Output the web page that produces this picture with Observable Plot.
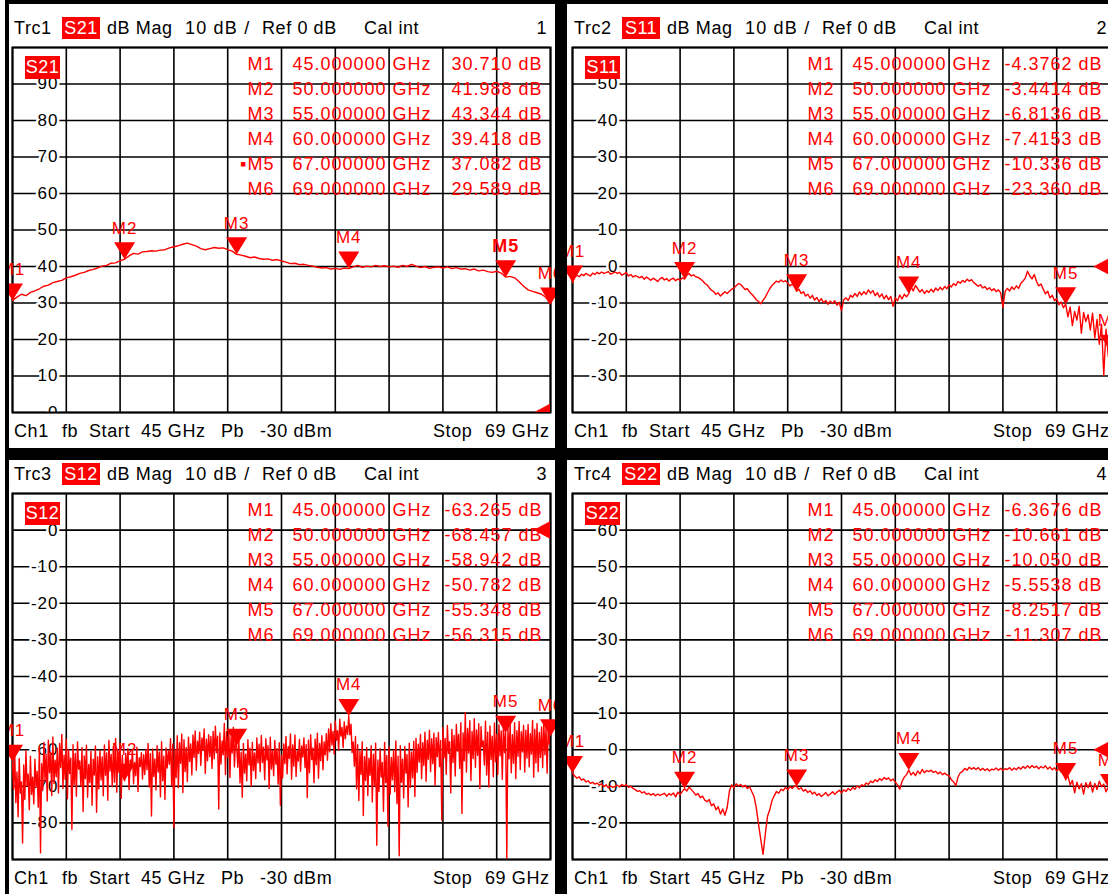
<!DOCTYPE html>
<html><head><meta charset="utf-8">
<script src="https://cdn.jsdelivr.net/npm/d3@7"></script>
<script src="https://cdn.jsdelivr.net/npm/@observablehq/plot@0.6"></script>
<style>
body{margin:0;background:#fff;}
#root{position:relative;width:1108px;height:894px;overflow:hidden;background:#fff;font-family:"Liberation Sans",Arial,sans-serif;}
.panel{position:absolute;background:#fff;overflow:hidden;}
.panel svg{position:absolute;left:0;top:0;overflow:hidden;}
.panel svg text{letter-spacing:1px;}
.t{position:absolute;font-size:18px;line-height:22px;white-space:pre;color:#000;letter-spacing:0.6px;}
.badge{position:absolute;background:#ff0000;color:#fff;font-size:18px;text-align:center;white-space:pre;letter-spacing:0.5px;}
.bar{position:absolute;background:#000;}
</style></head>
<body><div id="root"></div>
<script>
// ---------------- data ----------------
const startGHz = 45, stopGHz = 69, powerLabel = "-30 dBm", refLevel = 0;
const gridFreqs = [45, 47.4, 49.8, 52.2, 54.6, 57, 59.4, 61.8, 64.2, 66.6, 69];
const traceNames = ["Trc1", "Trc2", "Trc3", "Trc4"];
const sParams = ["S21", "S11", "S12", "S22"];
const channelNums = ["1", "2", "3", "4"];
const markerNames = ["M1", "M2", "M3", "M4", "M5", "M6"];
const markerFreqs = [45, 50, 55, 60, 67, 69];
const s21Markers = [30.710, 41.988, 43.344, 39.418, 37.082, 29.589];
const s11Markers = [-4.3762, -3.4414, -6.8136, -7.4153, -10.336, -23.360];
const s12Markers = [-63.265, -68.457, -58.942, -50.782, -55.348, -56.315];
const s22Markers = [-6.3676, -10.661, -10.050, -5.5538, -8.2517, -11.307];

const s21Grid = [0, 10, 20, 30, 40, 50, 60, 70, 80, 90, 100];
const s11Grid = [-40, -30, -20, -10, 0, 10, 20, 30, 40, 50, 60];
const s12Grid = [-90, -80, -70, -60, -50, -40, -30, -20, -10, 0, 10];
const s22Grid = [-30, -20, -10, 0, 10, 20, 30, 40, 50, 60, 70];
const s21Ticks = [90, 80, 70, 60, 50, 40, 30, 20, 10, 0];
const s11Ticks = [50, 40, 30, 20, 10, 0, -10, -20, -30];
const s12Ticks = [0, -10, -20, -30, -40, -50, -60, -70, -80];
const s22Ticks = [60, 50, 40, 30, 20, 10, 0, -10, -20];

// S21, 121 sweep points (0.2 GHz)
const s21Trace = [
30.71, 31.6, 32.4, 32.0, 32.9, 33.3, 33.9, 34.6, 34.9, 35.6,
35.9, 36.2, 36.9, 37.2, 37.6, 38.1, 38.4, 38.9, 39.2, 39.6,
40.1, 40.3, 40.9, 41.0, 41.6, 41.99, 42.9, 43.6, 43.4, 44.0,
44.1, 44.3, 44.2, 44.5, 44.6, 45.1, 45.4, 45.7, 46.1, 46.4,
46.0, 45.6, 44.9, 44.6, 44.9, 45.2, 45.0, 45.1, 44.6, 44.2,
43.34, 43.1, 42.8, 42.4, 42.6, 42.2, 42.0, 42.1, 41.7, 41.9,
41.5, 41.2, 40.8, 40.9, 40.5, 40.6, 40.3, 40.1, 39.8, 39.6,
39.7, 39.3, 39.5, 39.2, 39.6, 39.42, 39.9, 40.3, 39.8, 40.1,
39.9, 40.3, 40.0, 40.2, 39.9, 40.1, 39.8, 40.3, 40.0, 40.6,
40.1, 39.7, 40.0, 39.5, 39.8, 39.9, 39.6, 39.9, 39.4, 39.7,
39.3, 39.4, 39.0, 39.3, 38.8, 39.0, 38.6, 38.4, 38.7, 38.2,
37.08, 37.3, 36.9, 35.8, 34.6, 33.6, 33.2, 32.8, 32.4, 31.5,
29.59];

// S11, 241 sweep points (0.1 GHz)
const s11Trace = [
-4.38, -2.9, -2.4, -2.8, -2.1, -2.5, -1.9, -2.3, -2.6, -1.8,
-2.2, -1.6, -2.0, -1.5, -1.9, -1.7, -1.4, -2.1, -1.8, -1.5,
-1.9, -1.6, -2.4, -2.0, -1.7, -2.6, -2.2, -2.9, -2.5, -2.8,
-3.1, -2.7, -3.5, -2.9, -3.3, -3.8, -3.2, -3.6, -4.1, -3.4,
-3.0, -3.7, -3.3, -4.0, -3.5, -3.2, -3.9, -3.4, -3.8, -3.1,
-3.44, -2.4, -1.9, -2.6, -2.3, -2.8, -3.0, -3.4, -3.9, -4.6,
-5.0, -5.8, -6.5, -6.9, -7.6, -7.2, -8.1, -7.5, -6.9, -7.4,
-6.8, -6.2, -5.9, -5.3, -4.7, -4.9, -5.6, -6.3, -6.1, -7.0,
-7.6, -8.3, -9.1, -9.6, -10.2, -9.3, -8.4, -7.2, -6.1, -5.2,
-4.6, -4.0, -4.3, -3.7, -4.2, -3.9, -4.5, -5.3, -4.8, -5.6,
-6.81, -6.2, -7.4, -6.9, -8.1, -7.6, -8.7, -7.9, -9.2, -8.5,
-9.6, -8.8, -9.9, -9.3, -10.4, -9.5, -10.1, -9.4, -10.6, -9.8,
-12.1, -9.1, -8.6, -9.3, -7.9, -8.4, -7.4, -8.2, -7.0, -7.8,
-6.9, -7.6, -6.4, -7.3, -6.6, -8.0, -7.2, -8.4, -7.5, -8.9,
-7.9, -9.1, -8.2, -10.9, -8.6, -9.4, -7.8, -8.9, -7.6, -8.3,
-7.42, -5.6, -6.7, -5.2, -6.1, -7.0, -6.3, -7.4, -6.6, -7.1,
-6.2, -7.0, -5.9, -6.6, -5.7, -6.4, -5.5, -6.1, -5.0, -5.6,
-4.7, -5.2, -4.1, -4.6, -3.8, -4.3, -3.5, -4.0, -3.6, -4.4,
-4.9, -5.4, -5.0, -5.9, -5.5, -6.3, -5.8, -6.6, -6.1, -6.9,
-6.4, -7.2, -11.2, -6.8, -6.0, -6.7, -5.6, -6.3, -5.3, -6.0,
-4.6, -4.0, -3.1, -1.3, -2.6, -3.4, -2.2, -4.1, -5.3, -4.8,
-6.2, -7.5, -6.8, -8.6, -7.9, -9.4, -8.8, -10.5, -9.7, -11.3,
-10.34, -13.8, -11.1, -16.2, -12.3, -14.7, -10.9, -18.3, -12.6, -15.1,
-13.2, -17.4, -12.8, -19.6, -14.5, -21.3, -15.8, -29.8, -17.2, -24.6,
-23.36];

// S12, 481 sweep points (0.05 GHz)
const s12Trace = [
-63.27, -70.8, -60.9, -74.5, -66.1, -78.3, -62.4, -71.9, -68.8, -85.5,
-64.2, -73.6, -60.3, -69.9, -66.7, -76.4, -61.8, -72.2, -67.5, -74.8,
-62.6, -70.3, -65.9, -75.7, -59.1, -88.2, -63.8, -71.1, -58.0, -68.6,
-61.2, -74.0, -57.4, -66.3, -60.7, -72.5, -56.5, -69.2, -62.9, -67.4,
-59.6, -71.8, -58.3, -64.9, -55.8, -70.6, -61.5, -68.1, -57.2, -73.4,
-60.0, -66.5, -62.3, -81.8, -58.6, -69.6, -61.0, -72.7, -57.9, -65.3,
-63.1, -70.0, -59.4, -76.9, -61.7, -67.9, -58.8, -73.0, -64.0, -69.0,
-60.4, -75.2, -62.6, -66.9, -59.0, -77.1, -61.9, -70.7, -60.2, -68.3,
-62.0, -72.6, -58.7, -67.0, -60.9, -73.8, -57.5, -65.8, -61.3, -70.1,
-59.2, -68.9, -56.9, -71.6, -60.5, -66.2, -58.2, -73.3, -61.6, -67.7,
-68.46, -61.0, -66.4, -59.7, -70.9, -62.8, -65.2, -60.1, -69.3, -63.5,
-67.1, -59.3, -71.4, -62.2, -64.6, -60.8, -68.0, -61.4, -66.8, -60.0,
-65.5, -58.3, -70.2, -61.1, -78.1, -59.8, -67.3, -62.5, -71.0, -58.9,
-66.1, -60.6, -72.9, -57.8, -68.5, -61.8, -73.6, -59.5, -65.0, -60.3,
-64.0, -57.0, -69.8, -58.5, -81.3, -59.9, -67.6, -56.2, -70.4, -58.1,
-63.7, -55.7, -71.7, -57.3, -66.0, -59.4, -68.7, -56.6, -63.2, -58.4,
-66.9, -56.0, -62.1, -54.9, -65.6, -57.7, -61.0, -55.2, -64.3, -56.8,
-60.2, -54.3, -66.5, -57.1, -63.0, -55.9, -61.9, -56.4, -65.1, -55.0,
-62.5, -53.6, -60.8, -56.3, -76.2, -55.4, -63.9, -57.6, -61.4, -52.8,
-66.8, -55.1, -62.0, -54.7, -67.6, -56.5, -60.9, -53.9, -64.7, -57.2,
-58.94, -64.8, -57.6, -69.1, -60.7, -73.0, -58.3, -66.4, -61.2, -68.5,
-57.3, -64.2, -59.6, -70.0, -58.0, -65.7, -60.9, -67.9, -56.8, -63.6,
-58.5, -66.0, -56.1, -63.5, -59.3, -68.2, -57.0, -62.8, -58.9, -70.6,
-56.6, -65.3, -60.2, -67.1, -57.5, -64.0, -59.7, -69.4, -58.1, -75.2,
-61.6, -67.7, -58.4, -63.8, -56.4, -66.6, -59.1, -62.4, -55.7, -68.1,
-58.7, -64.5, -56.0, -67.3, -60.4, -63.1, -57.2, -65.9, -59.0, -62.0,
-56.8, -64.9, -58.6, -73.1, -57.4, -66.3, -55.9, -62.7, -59.5, -69.0,
-57.1, -64.1, -55.5, -67.8, -58.3, -63.0, -56.2, -65.5, -57.9, -61.4,
-55.6, -62.9, -54.3, -60.6, -52.9, -58.7, -55.0, -61.2, -52.2, -57.4,
-54.8, -60.1, -51.7, -56.3, -53.9, -59.4, -52.4, -57.0, -53.6, -55.8,
-50.78, -55.9, -53.0, -60.8, -57.9, -64.5, -56.4, -70.7, -58.6, -73.9,
-60.5, -66.8, -57.8, -78.0, -61.9, -68.4, -59.4, -72.5, -62.3, -67.0,
-58.9, -74.3, -61.2, -69.9, -58.2, -86.1, -62.8, -71.4, -59.7, -67.5,
-63.5, -76.8, -58.0, -69.0, -61.6, -80.9, -59.2, -72.1, -62.1, -68.2,
-60.1, -71.5, -57.6, -74.7, -61.8, -89.0, -58.9, -68.9, -62.6, -73.2,
-59.1, -66.4, -61.3, -75.6, -58.2, -70.3, -60.6, -67.7, -57.7, -72.8,
-56.9, -66.2, -58.5, -63.4, -55.8, -67.9, -58.1, -64.3, -55.2, -68.6,
-57.4, -62.6, -54.7, -66.0, -57.0, -63.8, -55.5, -69.7, -56.7, -61.9,
-55.3, -64.6, -57.5, -79.2, -54.0, -62.2, -56.9, -66.7, -53.4, -61.0,
-57.8, -71.8, -54.5, -63.5, -56.1, -67.2, -53.1, -60.4, -55.8, -65.1,
-52.6, -77.4, -55.4, -63.0, -49.9, -66.1, -54.2, -60.9, -52.1, -68.4,
-55.0, -62.4, -51.5, -64.8, -54.6, -61.5, -52.9, -70.6, -53.7, -59.2,
-57.6, -64.2, -52.2, -66.9, -55.2, -70.2, -53.5, -62.7, -56.3, -67.4,
-52.7, -63.3, -55.8, -66.8, -53.2, -61.7, -54.9, -68.1, -52.5, -60.8,
-55.35, -90.0, -54.0, -62.5, -53.0, -66.3, -55.9, -63.7, -52.6, -67.9,
-54.8, -61.8, -52.3, -65.4, -55.1, -60.6, -53.4, -66.1, -54.7, -62.3,
-53.1, -64.7, -55.6, -61.2, -52.0, -67.5, -54.4, -63.6, -52.8, -66.0,
-55.3, -62.1, -53.8, -64.9, -52.4, -61.4, -54.1, -66.4, -53.5, -58.5,
-56.32];

// S22, 241 sweep points (0.1 GHz)
const s22Trace = [
-6.37, -7.2, -7.8, -7.4, -8.3, -8.0, -8.8, -8.5, -9.2, -8.9,
-9.4, -9.1, -9.7, -9.3, -10.1, -9.6, -10.4, -9.9, -10.3, -10.0,
-9.7, -10.2, -9.5, -9.9, -9.6, -10.3, -10.0, -10.6, -10.9, -11.4,
-11.2, -11.8, -11.5, -12.2, -11.9, -12.4, -12.0, -12.6, -12.1, -12.5,
-12.2, -11.9, -12.7, -12.0, -12.4, -11.8, -12.9, -11.6, -12.3, -11.4,
-10.66, -11.3, -10.2, -10.9, -11.6, -12.4, -12.0, -13.1, -12.7, -13.8,
-14.2, -13.6, -15.3, -14.8, -16.4, -15.6, -17.6, -16.2, -17.9, -15.8,
-11.3, -9.6, -10.4, -9.3, -9.9, -9.5, -10.2, -9.7, -10.6, -10.1,
-11.5, -12.8, -15.9, -20.4, -24.6, -28.6, -23.1, -18.2, -16.4, -13.9,
-12.6, -11.4, -11.9, -10.8, -11.2, -10.3, -10.9, -10.1, -10.6, -9.9,
-10.05, -10.8, -10.4, -11.3, -10.9, -11.7, -11.2, -12.1, -11.6, -12.5,
-12.0, -12.8, -12.3, -11.7, -12.6, -12.1, -11.5, -12.2, -11.6, -11.1,
-11.8, -11.0, -11.4, -10.6, -11.1, -10.3, -10.8, -9.9, -10.4, -9.6,
-9.9, -9.1, -9.5, -8.6, -9.0, -8.2, -8.7, -7.9, -8.4, -7.6,
-8.1, -7.7, -8.5, -8.0, -8.9, -9.6, -10.8, -8.7, -7.5, -6.8,
-5.55, -6.9, -6.2, -7.1, -5.8, -6.6, -5.4, -6.3, -5.7, -6.0,
-5.6, -6.2, -5.9, -6.6, -6.1, -6.8, -6.4, -6.9, -7.1, -8.2,
-8.8, -9.8, -7.4, -6.3, -5.9, -5.1, -5.6, -4.8, -5.3, -4.9,
-5.4, -4.9, -5.6, -5.1, -5.7, -5.2, -5.8, -5.3, -5.5, -5.0,
-5.6, -5.1, -5.7, -5.2, -5.4, -4.9, -5.6, -5.0, -5.5, -4.8,
-5.3, -4.6, -5.1, -4.4, -5.0, -4.3, -4.9, -4.5, -5.2, -4.6,
-5.0, -4.4, -5.3, -4.7, -5.5, -4.9, -5.8, -5.2, -6.1, -5.6,
-8.25, -7.1, -9.6, -8.4, -11.8, -8.9, -10.7, -9.3, -12.1, -9.0,
-10.4, -8.8, -11.6, -9.2, -10.9, -8.6, -10.1, -9.4, -11.5, -10.2,
-11.31];

// ---------------- drawing ----------------
const RED = "#ff0000";
const FONT = '"Liberation Sans", Arial, sans-serif';
const fmtVal = v => d3.format(".5r")(v).replace("\u2212", "-");
const fmtFreq = f => d3.format(".6f")(f) + " GHz";
const downTri = {draw(ctx) { ctx.moveTo(0, 0); ctx.lineTo(-10.5, -17); ctx.lineTo(10.5, -17); ctx.closePath(); }};
const leftTri = {draw(ctx) { ctx.moveTo(0, -9); ctx.lineTo(-17, 0); ctx.lineTo(0, 9); ctx.closePath(); }};

const panels = [
  {left: 9, top: 4, w: 546, h: 444, ml: 3, mt: 43, ih: 365, trace: s21Trace, markers: s21Markers, grid: s21Grid, ticks: s21Ticks, active: 4},
  {left: 567, top: 4, w: 548, h: 444, ml: 5, mt: 43, ih: 365, trace: s11Trace, markers: s11Markers, grid: s11Grid, ticks: s11Ticks, active: -1},
  {left: 9, top: 460, w: 546, h: 434, ml: 3, mt: 33, ih: 366, trace: s12Trace, markers: s12Markers, grid: s12Grid, ticks: s12Ticks, active: -1},
  {left: 567, top: 460, w: 548, h: 434, ml: 5, mt: 33, ih: 366, trace: s22Trace, markers: s22Markers, grid: s22Grid, ticks: s22Ticks, active: -1}
];

const root = document.getElementById("root");
function span(cls, txt, x, y, extra) {
  const s = document.createElement("span");
  s.className = cls; s.textContent = txt;
  s.style.left = x + "px"; s.style.top = y + "px";
  if (extra) Object.assign(s.style, extra);
  root.appendChild(s);
  return s;
}

panels.forEach((p, k) => {
  const iw = 538;
  const n = p.trace.length;
  const step = (stopGHz - startGHz) / (n - 1);
  const pts = p.trace.map((v, i) => ({f: startGHz + i * step, v}));
  const mk = markerNames.map((name, i) => ({name, f: markerFreqs[i], v: p.markers[i]}));
  const mkPlain = mk.filter((d, i) => i !== p.active);
  const mkActive = mk.filter((d, i) => i === p.active);
  const col1 = markerNames.map((m, i) => (i === p.active ? "\u25AA" : "") + m).join("\n");
  const col2 = markerFreqs.map(fmtFreq).join("\n");
  const col3 = p.markers.map(v => fmtVal(v) + " dB").join("\n");
  const lh = 25 / 18;

  const chart = Plot.plot({
    width: p.w, height: p.h,
    marginLeft: p.ml, marginRight: p.w - p.ml - iw,
    marginTop: p.mt, marginBottom: p.h - p.mt - p.ih,
    x: {domain: [startGHz, stopGHz], axis: null},
    y: {domain: [d3.min(p.grid), d3.max(p.grid)], axis: null},
    style: {background: "white", fontFamily: FONT, overflow: "hidden"},
    marks: [
      Plot.ruleX(gridFreqs, {stroke: "#000", strokeWidth: 1.6}),
      Plot.ruleY(p.grid, {stroke: "#000", strokeWidth: 1.6}),
      Plot.text(p.ticks, {y: d => d, text: d => String(d), frameAnchor: "left", dx: 46, textAnchor: "end",
        fill: "#000", stroke: "#fff", strokeWidth: 5, fontSize: 17, clip: true}),
      Plot.frame({stroke: "#000", strokeWidth: 2}),
      Plot.text([col1], {text: d => d, frameAnchor: "top-left", dx: 262, dy: 5, textAnchor: "end", lineAnchor: "top", lineHeight: lh, fontSize: 18, fill: RED}),
      Plot.text([col2], {text: d => d, frameAnchor: "top-left", dx: 280, dy: 5, textAnchor: "start", lineAnchor: "top", lineHeight: lh, fontSize: 18, fill: RED}),
      Plot.text([col3], {text: d => d, frameAnchor: "top-left", dx: 530, dy: 5, textAnchor: "end", lineAnchor: "top", lineHeight: lh, fontSize: 18, fill: RED}),
      Plot.line(pts, {x: "f", y: "v", stroke: RED, strokeWidth: 1.4, clip: true}),
      Plot.dot(mk, {x: "f", y: "v", symbol: downTri, r: 6, fill: RED, stroke: "none"}),
      Plot.text(mkPlain, {x: "f", y: "v", text: "name", dy: -31, fill: RED, fontSize: 17}),
      Plot.text(mkActive, {x: "f", y: "v", text: "name", dy: -31, fill: RED, fontSize: 18, fontWeight: "bold"}),
      Plot.dot([{f: stopGHz, v: refLevel}], {x: "f", y: "v", symbol: leftTri, r: 6, fill: RED, stroke: "none", clip: true})
    ]
  });

  const div = document.createElement("div");
  div.className = "panel";
  Object.assign(div.style, {left: p.left + "px", top: p.top + "px", width: p.w + "px", height: p.h + "px"});
  div.appendChild(chart);
  root.appendChild(div);

  // header / footer / trace badge (HTML text around the grid)
  const gx = p.left + p.ml, gy = p.top + p.mt;
  const hy = gy - 19 - 11, fy = gy + p.ih + 19 - 11;
  span("t", traceNames[k], gx + 2, hy);
  span("badge", sParams[k], gx + 50, hy, {width: "38px", height: "22px", lineHeight: "22px"});
  span("t", "dB Mag", gx + 95, hy);
  span("t", "10 dB /", gx + 173, hy, {letterSpacing: "1.2px"});
  span("t", "Ref " + refLevel + " dB", gx + 250, hy);
  span("t", "Cal int", gx + 352, hy);
  span("t", channelNums[k], gx + 535, hy, {transform: "translateX(-100%)"});
  span("badge", sParams[k], gx + 13, gy + 9, {width: "35px", height: "23px", lineHeight: "23px"});
  span("t", "Ch1", gx + 2, fy);
  span("t", "fb", gx + 50, fy);
  span("t", "Start", gx + 77, fy);
  span("t", startGHz + " GHz", gx + 129, fy);
  span("t", "Pb", gx + 209, fy);
  span("t", powerLabel, gx + 248, fy);
  span("t", "Stop", gx + 421, fy);
  span("t", stopGHz + " GHz", gx + 473, fy);
});

// black instrument frame
[[5, 0, 1103, 4], [5, 0, 4, 894], [555, 0, 12, 894], [5, 448, 1103, 12]].forEach(([l, t, w, h]) => {
  const b = document.createElement("div");
  b.className = "bar";
  Object.assign(b.style, {left: l + "px", top: t + "px", width: w + "px", height: h + "px"});
  root.appendChild(b);
});
</script></body></html>
